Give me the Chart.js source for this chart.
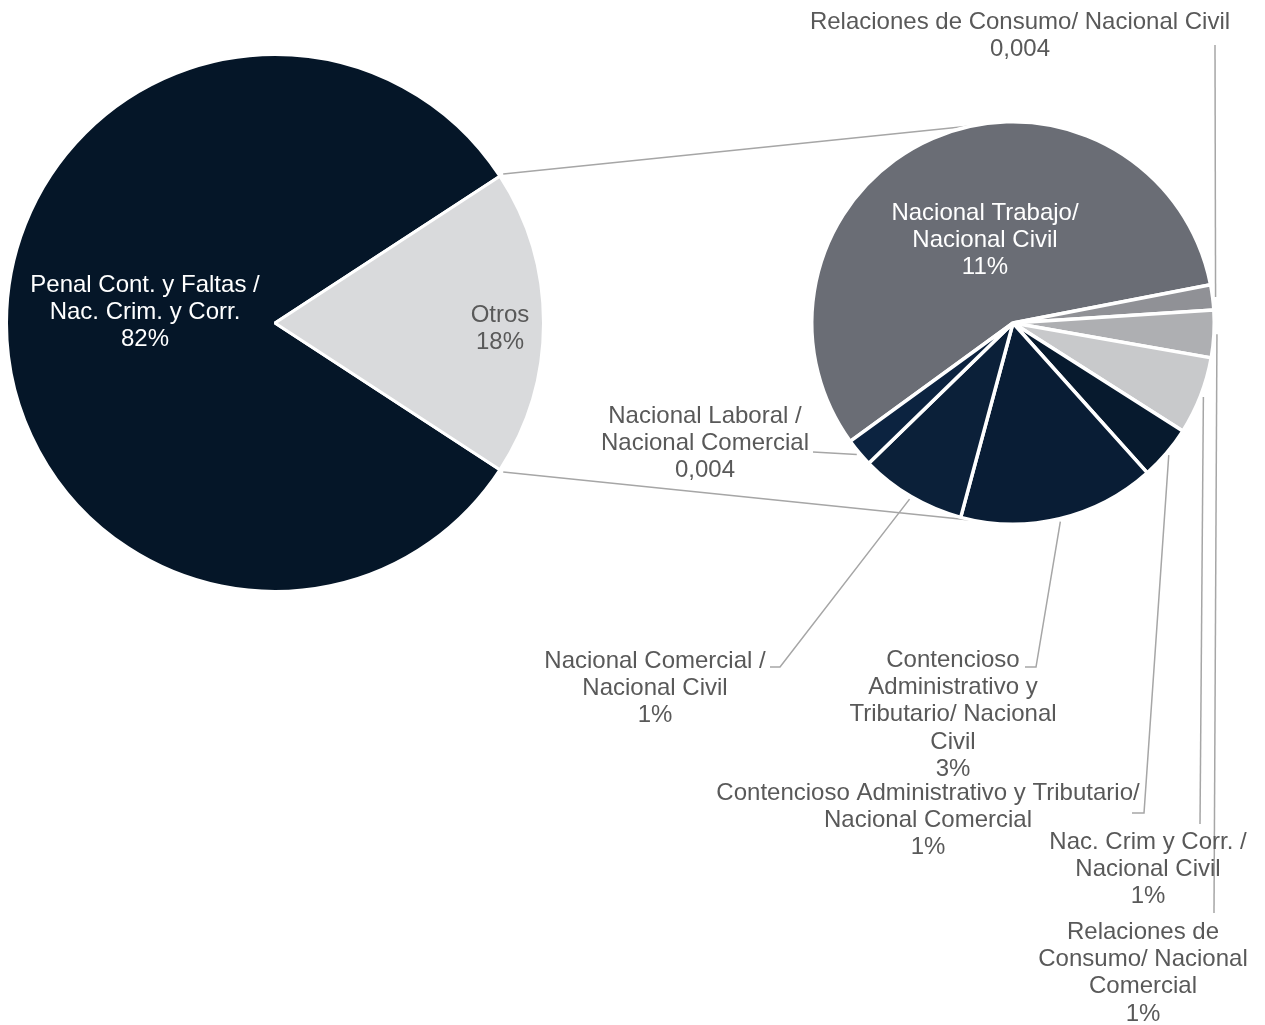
<!DOCTYPE html>
<html>
<head>
<meta charset="utf-8">
<script src="https://cdn.jsdelivr.net/npm/chart.js@4.4.1/dist/chart.umd.min.js"></script>
<style>
    html, body { margin: 0; padding: 0; background: #fff; }
    #wrap { position: relative; width: 1265px; height: 1025px; }
    #wrap canvas { position: absolute; left: 0; top: 0; }
</style>
</head>
<body>
<div id="wrap">
    <canvas id="mainPie" width="1265" height="1025"></canvas>
    <canvas id="subPie" width="1265" height="1025"></canvas>
</div>
<script>
// Torta principal
const mainLabels = [['Penal Cont. y Faltas /', 'Nac. Crim. y Corr.'], ['Otros']];
const mainValues = [81.6, 18.4];
const mainValueText = ['82%', '18%'];

// Torta secundaria (desglose de "Otros", % del total)
const subLabels = [
    ['Nacional Trabajo/', 'Nacional Civil'],
    ['Relaciones de Consumo/ Nacional Civil'],
    ['Relaciones de', 'Consumo/ Nacional', 'Comercial'],
    ['Nac. Crim y Corr. /', 'Nacional Civil'],
    ['Contencioso Administrativo y Tributario/', 'Nacional Comercial'],
    ['Contencioso', 'Administrativo y', 'Tributario/ Nacional', 'Civil'],
    ['Nacional Comercial /', 'Nacional Civil'],
    ['Nacional Laboral /', 'Nacional Comercial']
];
const subValues = [10.48, 0.37, 0.70, 1.15, 0.80, 2.91, 1.57, 0.42];
const subValueText = ['11%', '0,004', '1%', '1%', '1%', '3%', '1%', '0,004'];

// estilos
const FONT = '24px "Liberation Sans", Arial, sans-serif';
const LINE_H = 27.4;
const mainColors = ['#051628', '#d9dadc'];
const mainTextColors = ['#ffffff', '#595959'];
const subColors = ['#6a6d75', '#909196', '#aeafb2', '#c8c9cb', '#071a2e', '#091d35', '#0b2039', '#0c2340'];
const subTextColors = ['#ffffff', '#595959', '#595959', '#595959', '#595959', '#595959', '#595959', '#595959'];

// posiciones de las etiquetas (centro de la primera linea)
const mainLabelPos = [[145, 285], [500, 315]];
const subLabelPos = [[985, 213], [1020, 22], [1143, 932], [1148, 842], [928, 793], [953, 660], [655, 661], [705, 416]];
// lineas guia: puntos despues del borde de la porcion
const subLeaders = [
    null,
    [[1215, 45]],
    [[1214, 913]],
    [[1200, 824]],
    [[1144, 813], [1132, 813]],
    [[1036, 667], [1025, 667]],
    [[780, 667], [770, 667]],
    [[813, 452]]
];

const sliceLabels = {
    id: 'sliceLabels',
    afterDatasetsDraw(chart, args, opts) {
        const ctx = chart.ctx;
        const meta = chart.getDatasetMeta(0);
        ctx.save();
        ctx.font = FONT;
        ctx.textAlign = 'center';
        ctx.textBaseline = 'middle';
        meta.data.forEach((arc, i) => {
            const leader = opts.leaders && opts.leaders[i];
            if (leader) {
                const mid = (arc.startAngle + arc.endAngle) / 2;
                const r = arc.outerRadius + 3;
                ctx.beginPath();
                ctx.moveTo(arc.x + Math.cos(mid) * r, arc.y + Math.sin(mid) * r);
                leader.forEach(p => ctx.lineTo(p[0], p[1]));
                ctx.strokeStyle = '#a6a6a6';
                ctx.lineWidth = 1.5;
                ctx.stroke();
            }
            const lines = chart.data.labels[i].concat(opts.valueText[i]);
            const pos = opts.positions[i];
            ctx.fillStyle = opts.colors[i];
            lines.forEach((t, k) => ctx.fillText(t, pos[0], pos[1] + k * LINE_H));
        });
        ctx.restore();
    }
};

function pieOptions(rotation, padding, labelOpts) {
    return {
        responsive: false,
        animation: false,
        devicePixelRatio: 1,
        rotation: rotation,
        layout: { padding: padding },
        plugins: {
            legend: { display: false },
            tooltip: { enabled: false },
            sliceLabels: labelOpts
        }
    };
}

const mainTotal = mainValues.reduce((a, b) => a + b, 0);
const mainChart = new Chart(document.getElementById('mainPie').getContext('2d'), {
    type: 'pie',
    data: {
        labels: mainLabels,
        datasets: [{
            data: mainValues,
            backgroundColor: mainColors,
            borderColor: '#ffffff',
            borderWidth: 3
        }]
    },
    // "Otros" centrado a la derecha
    options: pieOptions(90 + 180 * mainValues[1] / mainTotal,
        { left: 5, top: 53, right: 720, bottom: 432 },
        { positions: mainLabelPos, valueText: mainValueText, colors: mainTextColors }),
    plugins: [sliceLabels]
});

// lineas que unen "Otros" con la segunda torta
const connectors = {
    id: 'connectors',
    beforeDatasetsDraw(chart) {
        const otros = mainChart.getDatasetMeta(0).data[1];
        const sub = chart.getDatasetMeta(0).data[0];
        const ctx = chart.ctx;
        const ends = [[otros.startAngle, -101.5], [otros.endAngle, 101]];
        ctx.save();
        ctx.strokeStyle = '#a6a6a6';
        ctx.lineWidth = 1.5;
        ends.forEach(([a, deg]) => {
            const b = deg * Math.PI / 180;
            const r1 = otros.outerRadius + 4;
            ctx.beginPath();
            ctx.moveTo(otros.x + Math.cos(a) * r1, otros.y + Math.sin(a) * r1);
            ctx.lineTo(sub.x + Math.cos(b) * sub.outerRadius, sub.y + Math.sin(b) * sub.outerRadius);
            ctx.stroke();
        });
        ctx.restore();
    }
};

const subChart = new Chart(document.getElementById('subPie').getContext('2d'), {
    type: 'pie',
    data: {
        labels: subLabels,
        datasets: [{
            data: subValues,
            backgroundColor: subColors,
            borderColor: '#ffffff',
            borderWidth: 3.5
        }]
    },
    options: pieOptions(234,
        { left: 810, top: 120, right: 49, bottom: 499 },
        { positions: subLabelPos, valueText: subValueText, colors: subTextColors, leaders: subLeaders }),
    plugins: [connectors, sliceLabels]
});
</script>
</body>
</html>
